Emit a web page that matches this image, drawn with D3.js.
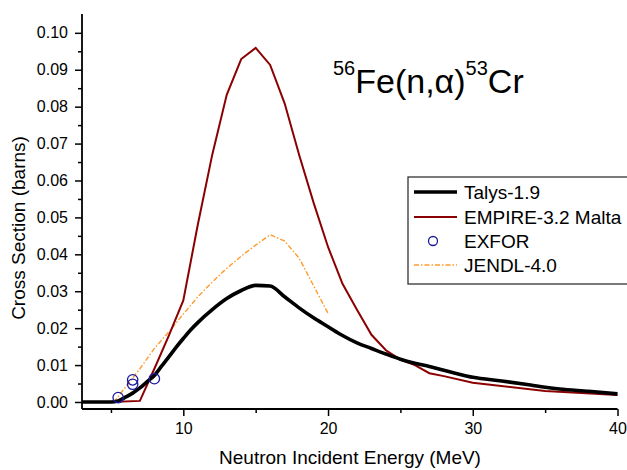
<!DOCTYPE html>
<html><head><meta charset="utf-8">
<script src="https://cdn.jsdelivr.net/npm/d3@7"></script>
<style>
html,body{margin:0;padding:0;background:#fff;}
svg{display:block;font-family:"Liberation Sans",Arial,sans-serif;}
</style></head>
<body>
<svg id="chart" width="627" height="470"></svg>
<script>
// ---- data ----
const talysE = [3,4,5,5.5,6,6.5,7,7.5,8,8.5,9,9.5,10,10.5,11,12,13,14,15,16,17,18,19,20,21,22,23,24,25,26,27,28,29,30,32,34,35,36,38,40];
const talysV = [0,0,0,0.0003,0.0013,0.0024,0.0038,0.0055,0.0072,0.0097,0.0122,0.0148,0.0172,0.0195,0.0215,0.0250,0.0280,0.0302,0.0316,0.0314,0.0285,0.0255,0.0228,0.0204,0.0180,0.0160,0.0145,0.0130,0.0116,0.0105,0.0096,0.0086,0.0076,0.0067,0.0057,0.0046,0.0040,0.0035,0.0029,0.0022];

const empireE = [3,5,7,8,9,10,11,12,13,14,15,16,17,18,19,20,21,22,23,24,25,26,27,28,30,35,40];
const empireV = [0,0,0.0003,0.0090,0.0180,0.0275,0.048,0.067,0.0832,0.0929,0.0959,0.0913,0.0809,0.067,0.054,0.042,0.032,0.025,0.0182,0.0140,0.0115,0.0100,0.0078,0.0070,0.0052,0.0030,0.0019];

const jendlE = [3,5.2,6,7,8,9,10,11,12,13,14,15,16,17,18,19,20];
const jendlV = [0,0,0.004,0.009,0.0145,0.019,0.0238,0.0285,0.0325,0.0362,0.0395,0.0425,0.0453,0.0436,0.039,0.0315,0.024];

const exforE = [5.5,6.5,6.5,8.0];
const exforV = [0.0012,0.0060,0.0048,0.0063];

const seriesNames = ["Talys-1.9","EMPIRE-3.2 Malta","EXFOR","JENDL-4.0"];
const xMajor = [10,20,30,40];
const xMinor = [5,15,25,35];
const yMajor = [0,0.01,0.02,0.03,0.04,0.05,0.06,0.07,0.08,0.09,0.10];
const yMinor = [0.005,0.015,0.025,0.035,0.045,0.055,0.065,0.075,0.085,0.095];

// ---- layout ----
const svg = d3.select("#chart");
const L = 82, R = 617.5, T = 14, B = 409;
const x = d3.scaleLinear().domain([3,40]).range([L,R]);
const y = d3.scaleLinear().domain([-0.0019,0.1051]).range([B,T]);

const font = "Liberation Sans, Arial, sans-serif";

// axes
const gx = svg.append("g").attr("transform",`translate(0,${B})`);
gx.call(d3.axisBottom(x).tickValues(xMajor).tickSize(7).tickPadding(7).tickFormat(d3.format("d")));
const gxm = svg.append("g").attr("transform",`translate(0,${B})`);
gxm.call(d3.axisBottom(x).tickValues(xMinor).tickSize(4).tickFormat(""));
gxm.select(".domain").remove();

const gy = svg.append("g").attr("transform",`translate(${L},0)`);
gy.call(d3.axisLeft(y).tickValues(yMajor).tickSize(7).tickPadding(7).tickFormat(d3.format(".2f")));
const gym = svg.append("g").attr("transform",`translate(${L},0)`);
gym.call(d3.axisLeft(y).tickValues(yMinor).tickSize(4).tickFormat(""));
gym.select(".domain").remove();

[gx,gy,gxm,gym].forEach(g=>{
  g.selectAll("path.domain").attr("stroke","#000").attr("stroke-width",1.8);
  g.selectAll(".tick line").attr("stroke","#000").attr("stroke-width",1.5);
  g.selectAll(".tick text").attr("font-size",16).attr("font-family",font).attr("fill","#000");
});
gx.select("path.domain").attr("d",`M${L},0H${R}`);
gy.select("path.domain").attr("d",`M0,${B}V${T}`);

// axis titles
svg.append("text").attr("x",350).attr("y",464).attr("text-anchor","middle")
  .attr("font-size",19).attr("font-family",font).text("Neutron Incident Energy (MeV)");
svg.append("text").attr("transform","translate(25,228) rotate(-90)").attr("text-anchor","middle")
  .attr("font-size",19).attr("font-family",font).text("Cross Section (barns)");

// lines
const line = d3.line().x(d=>x(d[0])).y(d=>y(d[1]));
const zip = (a,b)=>a.map((v,i)=>[v,b[i]]);

svg.append("path").datum(zip(jendlE,jendlV)).attr("d",line)
  .attr("fill","none").attr("stroke","#FF9A2E").attr("stroke-width",1.4)
  .attr("stroke-dasharray","5,2,1.5,2");
svg.append("path").datum(zip(empireE,empireV)).attr("d",line)
  .attr("fill","none").attr("stroke","#8B0000").attr("stroke-width",2);
svg.append("path").datum(zip(talysE,talysV)).attr("d",d3.line().x(d=>x(d[0])).y(d=>y(d[1])).curve(d3.curveMonotoneX))
  .attr("fill","none").attr("stroke","#000").attr("stroke-width",3.6).attr("stroke-linejoin","round");

svg.append("g").selectAll("circle").data(zip(exforE,exforV)).join("circle")
  .attr("cx",d=>x(d[0])).attr("cy",d=>y(d[1])).attr("r",5.2)
  .attr("fill","none").attr("stroke","#1A1AA0").attr("stroke-width",1.3);

// title
const title = svg.append("text").attr("x",333).attr("y",93).attr("font-family",font).attr("font-size",34);
title.append("tspan").attr("font-size",20).attr("dy",-18).text("56");
title.append("tspan").attr("dy",18).text("Fe(n,α)");
title.append("tspan").attr("font-size",20).attr("dy",-18).text("53");
title.append("tspan").attr("dy",18).text("Cr");

// legend
const lg = svg.append("g");
lg.append("rect").attr("x",408).attr("y",177).attr("width",240).attr("height",107)
  .attr("fill","#fff").attr("stroke","#333").attr("stroke-width",1.3);
const ly = [192,217,241,265];
lg.append("line").attr("x1",414).attr("x2",457).attr("y1",ly[0]).attr("y2",ly[0]).attr("stroke","#000").attr("stroke-width",3.6);
lg.append("line").attr("x1",414).attr("x2",457).attr("y1",ly[1]).attr("y2",ly[1]).attr("stroke","#8B0000").attr("stroke-width",2);
lg.append("circle").attr("cx",433).attr("cy",ly[2]).attr("r",4.5).attr("fill","none").attr("stroke","#1A1AA0").attr("stroke-width",1.3);
lg.append("line").attr("x1",414).attr("x2",457).attr("y1",ly[3]).attr("y2",ly[3]).attr("stroke","#FF9A2E").attr("stroke-width",1.4).attr("stroke-dasharray","5,2,1.5,2");
seriesNames.forEach((n,i)=>{
  lg.append("text").attr("x",464).attr("y",ly[i]+6.8).attr("font-size",19).attr("font-family",font).text(n);
});
</script>
</body></html>
